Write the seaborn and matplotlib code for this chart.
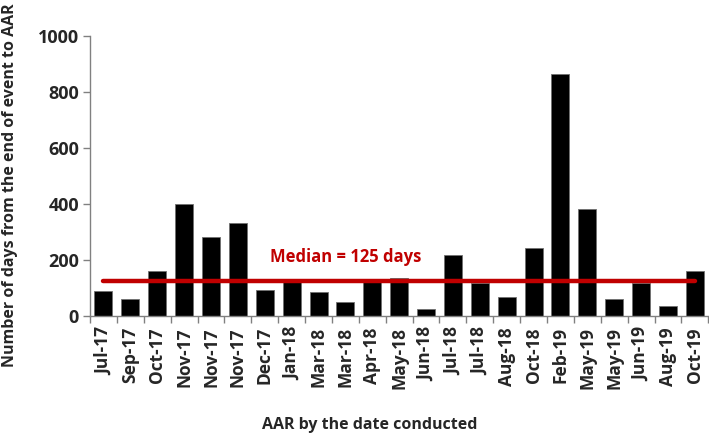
import numpy as np
import pandas as pd
import matplotlib
matplotlib.use("Agg")
import matplotlib.pyplot as plt
import seaborn as sns

# === DATI ===
labels = ["Jul-17", "Sep-17", "Oct-17", "Nov-17", "Nov-17", "Nov-17", "Dec-17",
          "Jan-18", "Mar-18", "Mar-18", "Apr-18", "May-18", "Jun-18", "Jul-18",
          "Jul-18", "Aug-18", "Oct-18", "Feb-19", "May-19", "May-19", "Jun-19",
          "Aug-19", "Oct-19"]
days = [90, 61, 162, 400, 283, 333, 95,
        133, 87, 49, 125, 135, 25, 217,
        120, 70, 244, 864, 381, 60, 120,
        36, 161]
median_days = 125

df = pd.DataFrame({"idx": np.arange(len(labels)), "days": days})

sns.set_style("white")
plt.rcParams["font.family"] = ["Open Sans", "DejaVu Sans"]
plt.rcParams["font.weight"] = "bold"

fig = plt.figure(figsize=(7.09, 4.36), dpi=100)
ax = fig.add_axes([0.127, 0.275, 0.872, 0.642])

sns.barplot(x="idx", y="days", data=df, color="black", width=0.67,
            edgecolor="#707070", linewidth=0.6, saturation=1, ax=ax)

# linea mediana
ax.plot([0, len(labels) - 1], [median_days, median_days], color="#C00000",
        linewidth=3.2, solid_capstyle="round", zorder=5)
ax.text(9.0, 211, "Median = 125 days", color="#C00000", fontsize=12,
        fontweight="bold", ha="center", va="center")

ax.set_xlim(-0.5, len(labels) - 0.5)
ax.set_ylim(0, 1000)
ax.set_yticks(range(0, 1001, 200))
ax.tick_params(axis="y", labelsize=13, length=5, width=1, color="#808080",
               direction="out", left=True, pad=3)

ax.set_xticks(np.arange(len(labels)))
ax.set_xticklabels(labels, rotation=90, fontsize=12.5, fontweight="bold")
ax.set_xticks(np.arange(-0.5, len(labels)), minor=True)
ax.tick_params(axis="x", which="major", length=0, pad=8)
ax.tick_params(axis="x", which="minor", length=5, width=1, color="#808080",
               direction="out", bottom=True)

for s in ["top", "right"]:
    ax.spines[s].set_visible(False)
for s in ["left", "bottom"]:
    ax.spines[s].set_color("#808080")
    ax.spines[s].set_linewidth(1)

ax.set_xlabel("AAR by the date conducted", fontsize=11.5, fontweight="bold")
ax.xaxis.set_label_coords(0.453, -0.36)
ax.set_ylabel("Number of days from the end of event to AAR", fontsize=11.5,
              fontweight="bold")
ax.yaxis.set_label_coords(-0.116, 0.468)

plt.savefig("out.png", dpi=100)
plt.close()
